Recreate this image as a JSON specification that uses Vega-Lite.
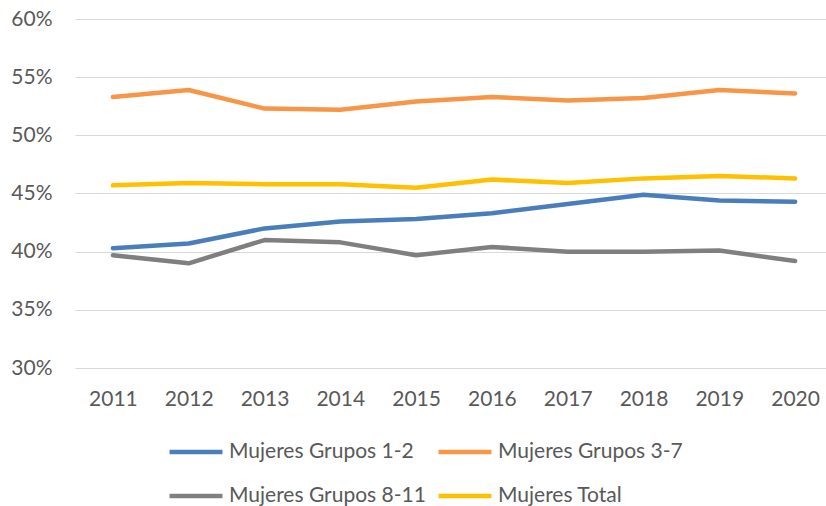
{
  "$schema": "https://vega.github.io/schema/vega-lite/v6.json",
  "autosize": "none",
  "width": 758,
  "height": 349,
  "padding": {"left": 75, "top": 19, "right": 0, "bottom": 138},
  "background": "white",
  "data": {
    "values": [
      {"year": "2011", "serie": "Mujeres Grupos 1-2", "value": 0.403},
      {"year": "2012", "serie": "Mujeres Grupos 1-2", "value": 0.407},
      {"year": "2013", "serie": "Mujeres Grupos 1-2", "value": 0.420},
      {"year": "2014", "serie": "Mujeres Grupos 1-2", "value": 0.426},
      {"year": "2015", "serie": "Mujeres Grupos 1-2", "value": 0.428},
      {"year": "2016", "serie": "Mujeres Grupos 1-2", "value": 0.433},
      {"year": "2017", "serie": "Mujeres Grupos 1-2", "value": 0.441},
      {"year": "2018", "serie": "Mujeres Grupos 1-2", "value": 0.449},
      {"year": "2019", "serie": "Mujeres Grupos 1-2", "value": 0.444},
      {"year": "2020", "serie": "Mujeres Grupos 1-2", "value": 0.443},
      {"year": "2011", "serie": "Mujeres Grupos 3-7", "value": 0.533},
      {"year": "2012", "serie": "Mujeres Grupos 3-7", "value": 0.539},
      {"year": "2013", "serie": "Mujeres Grupos 3-7", "value": 0.523},
      {"year": "2014", "serie": "Mujeres Grupos 3-7", "value": 0.522},
      {"year": "2015", "serie": "Mujeres Grupos 3-7", "value": 0.529},
      {"year": "2016", "serie": "Mujeres Grupos 3-7", "value": 0.533},
      {"year": "2017", "serie": "Mujeres Grupos 3-7", "value": 0.530},
      {"year": "2018", "serie": "Mujeres Grupos 3-7", "value": 0.532},
      {"year": "2019", "serie": "Mujeres Grupos 3-7", "value": 0.539},
      {"year": "2020", "serie": "Mujeres Grupos 3-7", "value": 0.536},
      {"year": "2011", "serie": "Mujeres Grupos 8-11", "value": 0.397},
      {"year": "2012", "serie": "Mujeres Grupos 8-11", "value": 0.390},
      {"year": "2013", "serie": "Mujeres Grupos 8-11", "value": 0.410},
      {"year": "2014", "serie": "Mujeres Grupos 8-11", "value": 0.408},
      {"year": "2015", "serie": "Mujeres Grupos 8-11", "value": 0.397},
      {"year": "2016", "serie": "Mujeres Grupos 8-11", "value": 0.404},
      {"year": "2017", "serie": "Mujeres Grupos 8-11", "value": 0.400},
      {"year": "2018", "serie": "Mujeres Grupos 8-11", "value": 0.400},
      {"year": "2019", "serie": "Mujeres Grupos 8-11", "value": 0.401},
      {"year": "2020", "serie": "Mujeres Grupos 8-11", "value": 0.392},
      {"year": "2011", "serie": "Mujeres Total", "value": 0.457},
      {"year": "2012", "serie": "Mujeres Total", "value": 0.459},
      {"year": "2013", "serie": "Mujeres Total", "value": 0.458},
      {"year": "2014", "serie": "Mujeres Total", "value": 0.458},
      {"year": "2015", "serie": "Mujeres Total", "value": 0.455},
      {"year": "2016", "serie": "Mujeres Total", "value": 0.462},
      {"year": "2017", "serie": "Mujeres Total", "value": 0.459},
      {"year": "2018", "serie": "Mujeres Total", "value": 0.463},
      {"year": "2019", "serie": "Mujeres Total", "value": 0.465},
      {"year": "2020", "serie": "Mujeres Total", "value": 0.463}
    ]
  },
  "mark": {"type": "line", "strokeWidth": 4.5, "strokeCap": "round", "strokeJoin": "round"},
  "encoding": {
    "x": {
      "field": "year",
      "type": "ordinal",
      "scale": {"type": "point", "padding": 0.5},
      "axis": {
        "title": null,
        "labelAngle": 0,
        "ticks": false,
        "domain": false,
        "grid": false,
        "labelPadding": 20,
        "labelFont": "Lato",
        "labelFontSize": 21,
        "labelColor": "#595959"
      }
    },
    "y": {
      "field": "value",
      "type": "quantitative",
      "scale": {"domain": [0.3, 0.6], "nice": false, "zero": false},
      "axis": {
        "title": null,
        "values": [0.3, 0.35, 0.4, 0.45, 0.5, 0.55, 0.6],
        "format": ".0%",
        "ticks": false,
        "domain": false,
        "grid": true,
        "gridColor": "#d9d9d9",
        "gridWidth": 1.2,
        "labelPadding": 23,
        "labelFont": "Lato",
        "labelFontSize": 21,
        "labelColor": "#595959"
      }
    },
    "color": {
      "field": "serie",
      "type": "nominal",
      "scale": {
        "domain": ["Mujeres Grupos 1-2", "Mujeres Grupos 3-7", "Mujeres Grupos 8-11", "Mujeres Total"],
        "range": ["#4a7ebb", "#f79646", "#7f7f7f", "#ffc000"]
      },
      "legend": {
        "title": null,
        "orient": "none",
        "legendX": 92,
        "legendY": 404,
        "direction": "horizontal",
        "columns": 2,
        "symbolType": "stroke",
        "symbolSize": 2800,
        "symbolStrokeWidth": 4.5,
        "labelFont": "Lato",
        "labelFontSize": 21,
        "labelColor": "#595959",
        "labelOffset": 4,
        "columnPadding": 3,
        "rowPadding": 5,
        "padding": 0,
        "labelLimit": 400
      }
    }
  },
  "config": {"view": {"stroke": null}}
}
